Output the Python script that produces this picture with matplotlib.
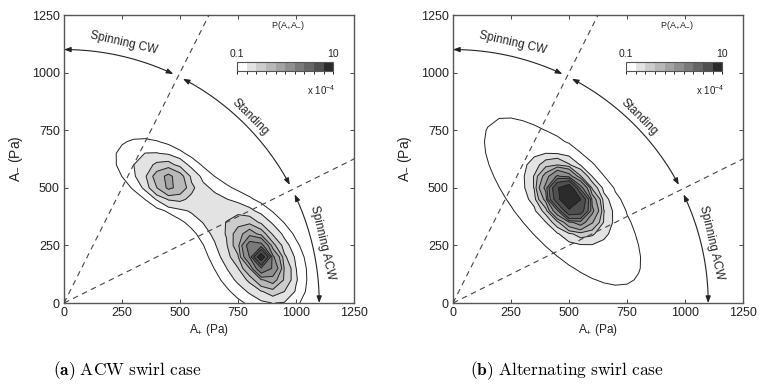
import numpy as np
import matplotlib
matplotlib.use("Agg")
import matplotlib.pyplot as plt
from matplotlib.patches import FancyArrowPatch
from matplotlib.path import Path
from matplotlib.colors import ListedColormap, BoundaryNorm

plt.rcParams['font.family'] = ['Liberation Sans', 'DejaVu Sans']
plt.rcParams['mathtext.fontset'] = 'custom'
plt.rcParams['mathtext.rm'] = 'Liberation Sans'
plt.rcParams['mathtext.it'] = 'Liberation Sans:italic'
plt.rcParams['mathtext.bf'] = 'Liberation Sans:bold'

# ---------------- data ----------------
ticks = [0, 250, 500, 750, 1000, 1250]
levels = [0.1, 0.158, 0.251, 0.398, 0.631, 1.0, 1.585, 2.512, 3.981, 6.31, 10.0]  # x 1e-4
gray_levels = [1.0, 0.89, 0.80, 0.72, 0.64, 0.56, 0.48, 0.40, 0.31, 0.17]

# PDF peaks (x 1e-4), panel (a): ACW swirl case
# [main core, main halo, secondary core, secondary halo, bridge]
a_cx = [845, 830, 455, 420, 630]
a_cy = [200, 200, 525, 560, 400]
a_amp = [10.0, 0.25, 0.6, 0.2, 0.05]
a_major = [40, 270, 70, 260, 180]
a_minor = [20, 190, 55, 150, 90]
a_angle = [122, 125, 155, 150, 145]
a_shape = [1, 2, 2, 2, 2]

# panel (b): alternating swirl case  [core, broad]
b_cx = [500, 472]
b_cy = [455, 440]
b_amp = [50.0, 0.13]
b_major = [32, 900]
b_minor = [20, 360]
b_angle = [130, 132]
b_shape = [1, 2]

regime_angles = [90, 63.43, 26.57, 0]   # boundaries of regimes (deg), radius 1100
regime_labels = ["Spinning CW", "Standing", "Spinning ACW"]
arc_radius = 1100
captions = [r"$\mathbf{(a)}\ \mathrm{ACW\ swirl\ case}$",
            r"$\mathbf{(b)}\ \mathrm{Alternating\ swirl\ case}$"]

grid = np.arange(0, 1251, 50.0)
X, Y = np.meshgrid(grid, grid)


def field(cx, cy, amp, major, minor, angle, shape):
    Z = np.zeros_like(X)
    for x0, y0, A, ma, mi, an, p in zip(cx, cy, amp, major, minor, angle, shape):
        t = np.deg2rad(an)
        u = (X - x0) * np.cos(t) + (Y - y0) * np.sin(t)
        v = -(X - x0) * np.sin(t) + (Y - y0) * np.cos(t)
        r = np.sqrt((u / ma) ** 2 + (v / mi) ** 2)
        Z += A * np.exp(-r ** p)
    return Z


Za = field(a_cx, a_cy, a_amp, a_major, a_minor, a_angle, a_shape)
Zb = field(b_cx, b_cy, b_amp, b_major, b_minor, b_angle, b_shape)

cmap = ListedColormap([str(g) for g in gray_levels])
norm = BoundaryNorm(levels, cmap.N)

fig = plt.figure(figsize=(7.6, 3.92), dpi=100)
axes_pos = [[64 / 760, 89 / 392, 290 / 760, 288 / 392],
            [453 / 760, 89 / 392, 290 / 760, 288 / 392]]
caption_x = [127 / 760, 567 / 760]

for k, (Z, pos) in enumerate(zip([Za, Zb], axes_pos)):
    ax = fig.add_axes(pos)
    Zc = np.clip(Z, 1e-6, 9.99)
    cf = ax.contourf(X, Y, Zc, levels=levels, cmap=cmap, norm=norm)
    ax.contour(X, Y, Zc, levels=levels, colors='#222222', linewidths=0.7)

    ax.set_xlim(0, 1250)
    ax.set_ylim(0, 1250)
    ax.set_xticks(ticks)
    ax.set_yticks(ticks)
    ax.tick_params(direction='in', top=True, right=True, length=3, width=0.7,
                   labelsize=9, colors='#444444', labelcolor='#222222', pad=3)
    for s in ax.spines.values():
        s.set_color('#555555')
        s.set_linewidth(1.0)
    ax.set_xlabel(r"A$_{+}$ (Pa)", fontsize=8.5, labelpad=2, color='#222222')
    ax.set_ylabel(r"A$_{-}$ (Pa)", fontsize=10, labelpad=5, color='#222222')

    # dashed regime boundaries
    for ang in regime_angles[1:3]:
        t = np.deg2rad(ang)
        ax.plot([0, 1800 * np.cos(t)], [0, 1800 * np.sin(t)], ls=(0, (5, 4)),
                color='#444444', lw=0.8, zorder=3)

    # arcs with arrows
    for i in range(3):
        a0 = regime_angles[i] - (0.0 if i == 0 else 1.2)
        a1 = regime_angles[i + 1] + (0.0 if i == 2 else 1.2)
        th = np.deg2rad(np.linspace(a0, a1, 60))
        verts = np.column_stack([arc_radius * np.cos(th), arc_radius * np.sin(th)])
        arr = FancyArrowPatch(path=Path(verts),
                              arrowstyle='<|-|>,head_length=4,head_width=1.5',
                              color='#222222', lw=0.8, transform=ax.transData,
                              mutation_scale=1, clip_on=False, zorder=4)
        ax.add_patch(arr)

    label_pos = [(259, 1128, -13), (802, 807, -45), (1112, 260, -77)]
    for (lx, ly, rot), lab in zip(label_pos, regime_labels):
        ax.text(lx, ly, lab, rotation=rot, ha='center', va='center',
                fontsize=8.5, color='#222222', rotation_mode='anchor')

    # colorbar inset
    cax = ax.inset_axes([0.597, 0.806, 0.331, 0.031])
    cb = fig.colorbar(cf, cax=cax, orientation='horizontal', spacing='uniform')
    cb.set_ticks([])
    cb.outline.set_edgecolor('#555555')
    cb.outline.set_linewidth(0.8)
    ax.text(0.77, 0.965, r"P(A$_{+}$A$_{-}$)", transform=ax.transAxes,
            ha='center', va='center', fontsize=6.5, color='#222222')
    ax.text(0.597, 0.865, "0.1", transform=ax.transAxes, ha='center',
            va='center', fontsize=7.5, color='#222222')
    ax.text(0.928, 0.865, "10", transform=ax.transAxes, ha='center',
            va='center', fontsize=7.5, color='#222222')
    ax.text(0.885, 0.74, r"x 10$^{-4}$", transform=ax.transAxes, ha='center',
            va='center', fontsize=7, color='#222222')

    fig.text(caption_x[k], (392 - 371) / 392, captions[k], math_fontfamily='cm',
             ha='center', va='center', fontsize=12.5)

fig.savefig("out.png", dpi=100)
